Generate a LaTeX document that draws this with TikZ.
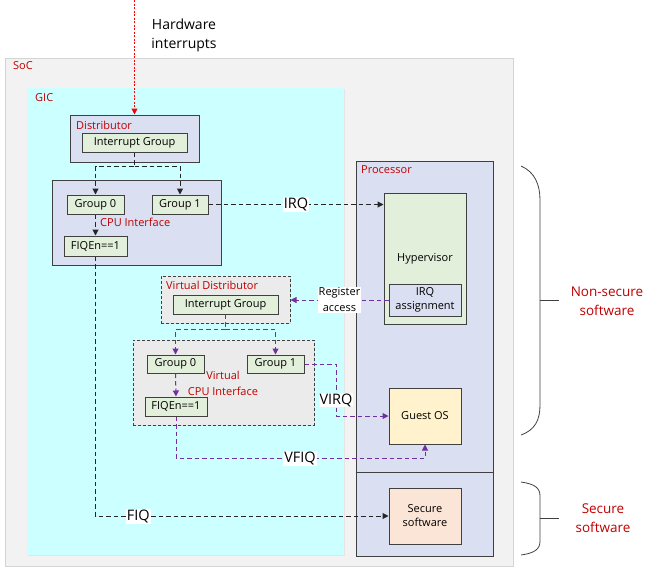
\documentclass[tikz,border=0pt]{standalone}
\usepackage{fontspec}
\setmainfont{Open Sans}
\usetikzlibrary{arrows.meta,calc,shadows}
\definecolor{socfill}{HTML}{F2F2F2}
\definecolor{socdraw}{HTML}{D4D4D4}
\definecolor{gicfill}{HTML}{CCFFFF}
\definecolor{lav}{HTML}{DAE0F2}
\definecolor{grn}{HTML}{E2EFDA}
\definecolor{vgray}{HTML}{EBEBEB}
\definecolor{guestc}{HTML}{FFF2CC}
\definecolor{secc}{HTML}{FBE5D6}
\definecolor{bord}{HTML}{404040}
\definecolor{lblred}{HTML}{C00000}
\definecolor{purp}{HTML}{7030A0}
\tikzset{
  box/.style={draw=bord, line width=1pt, inner sep=0pt, align=center, font=\fontsize{11}{14}\selectfont,
    drop shadow={shadow xshift=1.2pt, shadow yshift=-1.2pt, fill=black!25}},
  vbox/.style={draw=bord, line width=1pt, dashed, dash pattern=on 3pt off 2pt, fill=vgray, inner sep=0pt,
    drop shadow={shadow xshift=1.2pt, shadow yshift=-1.2pt, fill=black!20}},
  inbox/.style={box, fill=grn},
  title/.style={text=lblred, font=\fontsize{11}{13}\selectfont, anchor=west, inner sep=0pt},
  blk/.style={draw=black!85, line width=1pt, dash pattern=on 4.5pt off 3pt, -{Triangle[length=6pt,width=6pt]}},
  pur/.style={draw=purp, line width=1pt, dash pattern=on 4.5pt off 3pt, -{Triangle[length=6pt,width=6pt]}},
  lbl/.style={fill=white, inner sep=1pt, font=\fontsize{14.5}{16}\selectfont},
  slbl/.style={fill=white, inner sep=1pt, align=center, font=\fontsize{11}{16}\selectfont},
  redtxt/.style={text=lblred, align=center, font=\fontsize{13.5}{18.5}\selectfont},
}
\begin{document}
\begin{tikzpicture}[x=1pt,y=-1pt]
\useasboundingbox (0,0) rectangle (658,574);
% containers
\node[draw=socdraw, fill=socfill, line width=1pt, minimum width=508pt, minimum height=508pt, inner sep=0pt] (soc) at (259,312) {};
\node[title] (soct) at (13,66) {SoC};
\node[fill=gicfill, minimum width=317pt, minimum height=467pt, inner sep=0pt,
  drop shadow={shadow xshift=1.2pt, shadow yshift=-1.2pt, fill=black!15}] (gic) at (185.5,321.5) {};
\node[title] (gict) at (35,98) {GIC};
% Distributor
\node[box, fill=lav, minimum width=129pt, minimum height=47pt] (dist) at (134.5,138.5) {};
\node[title] (distt) at (76,125) {Distributor};
\node[inbox, minimum width=105pt, minimum height=19pt] (distig) at (134.5,142.5) {Interrupt Group};
% CPU interface
\node[box, fill=lav, minimum width=169pt, minimum height=85pt] (cpuif) at (136.5,222.5) {};
\node[inbox, minimum width=57pt, minimum height=19pt] (g0) at (95.5,204.5) {Group 0};
\node[inbox, minimum width=56pt, minimum height=19pt] (g1) at (180,204.5) {Group 1};
\node[title] (cpuift) at (100,222) {CPU Interface};
\node[inbox, minimum width=63pt, minimum height=20pt] (fiq) at (95.5,246) {FIQEn==1};
% Processor
\node[draw=bord, fill=lav, line width=1pt, minimum width=137pt, minimum height=395pt, inner sep=0pt] (proc) at (424.5,358.5) {};
\draw[draw=bord, line width=1pt] (proc.west |- 0,472) coordinate (pdl) -- (proc.east |- 0,472) coordinate (pdr);
\node[title] (proct) at (361,170) {Processor};
\node[box, fill=grn, minimum width=82pt, minimum height=131pt] (hyp) at (425,258.5) {};
\node[font=\fontsize{11}{14}\selectfont] (hypt) at (425,259) {Hypervisor};
\node[box, fill=lav, minimum width=72pt, minimum height=32pt] (irqa) at (425,300) {IRQ\\assignment};
\node[box, fill=guestc, minimum width=72pt, minimum height=56pt] (guest) at (425,416) {Guest OS};
\node[box, fill=secc, minimum width=72pt, minimum height=56pt] (sec) at (425,516) {Secure\\software};
% Virtual distributor
\node[vbox, minimum width=129pt, minimum height=47pt] (vdist) at (225.5,299.5) {};
\node[title] (vdistt) at (166,285) {Virtual Distributor};
\node[inbox, minimum width=105pt, minimum height=19pt] (vig) at (225.5,304.5) {Interrupt Group};
% Virtual CPU interface
\node[vbox, minimum width=181pt, minimum height=85pt] (vcpu) at (223.5,382.5) {};
\node[inbox, minimum width=57pt, minimum height=18pt] (vg0) at (175.5,364) {Group 0};
\node[inbox, minimum width=57pt, minimum height=18pt] (vg1) at (275.5,364) {Group 1};
\node[text=lblred, align=center, font=\fontsize{11}{16}\selectfont] (vcput) at (223,383) {Virtual\\CPU Interface};
\node[inbox, minimum width=62pt, minimum height=19pt] (vfiq) at (176,406.5) {FIQEn==1};
% hardware interrupts
\coordinate (hwtop) at (134.5,0);
\draw[draw=red, line width=1pt, dash pattern=on 2pt off 1.5pt, -{Triangle[length=6pt,width=6pt]}] (hwtop) -- (dist.north);
\node[align=center, font=\fontsize{14}{19}\selectfont] (hwt) at (184,35) {Hardware\\interrupts};
% black connectors
\draw[blk] (distig.south) -- ++(0,14) coordinate (dj) -| (g0.north);
\draw[blk] (dj) -| (g1.north);
\draw[blk] (g0.south) -- (fiq.north);
\draw[blk] (g1.east) -- node[lbl, pos=0.5] {IRQ} (g1.east -| hyp.west);
\draw[blk] (fiq.south) |- node[lbl, pos=0.573] {FIQ} (sec.west);
% purple connectors
\draw[pur] (irqa.west) -- node[slbl] {Register\\access} (irqa.west -| vdist.east);
\draw[pur] (vig.south) -- ++(0,15) coordinate (vj) -| (vg0.north);
\draw[pur] (vj) -| (vg1.north);
\draw[pur] (vg0.south) -- (vfiq.north);
\coordinate (virqc) at (336,416);
\draw[pur] (vg1.east) -| (virqc) -- (guest.west);
\node[lbl] (virqt) at (336,400) {VIRQ};
\coordinate (vfiqc) at (425,458);
\draw[pur] (vfiq.south) |- (vfiqc) -- (guest.south);
\node[lbl] (vfiqt) at (300,458) {VFIQ};
% braces
\draw[line width=0.8pt, draw=bord] (521,166) .. controls (535,172) and (540,185) .. (540,200) -- (540,405) .. controls (540,420) and (535,430) .. (521,435);
\draw[line width=0.8pt, draw=bord] (540,300) -- (559,300);
\draw[line width=0.8pt, draw=bord] (521,482) .. controls (535,484) and (540,488) .. (540,496) -- (540,541) .. controls (540,549) and (535,553) .. (521,555);
\draw[line width=0.8pt, draw=bord] (540,518) -- (559,518);
\node[redtxt] (nst) at (607,301) {Non-secure\\software};
\node[redtxt] (st) at (603,518) {Secure\\software};
\end{tikzpicture}
\end{document}
